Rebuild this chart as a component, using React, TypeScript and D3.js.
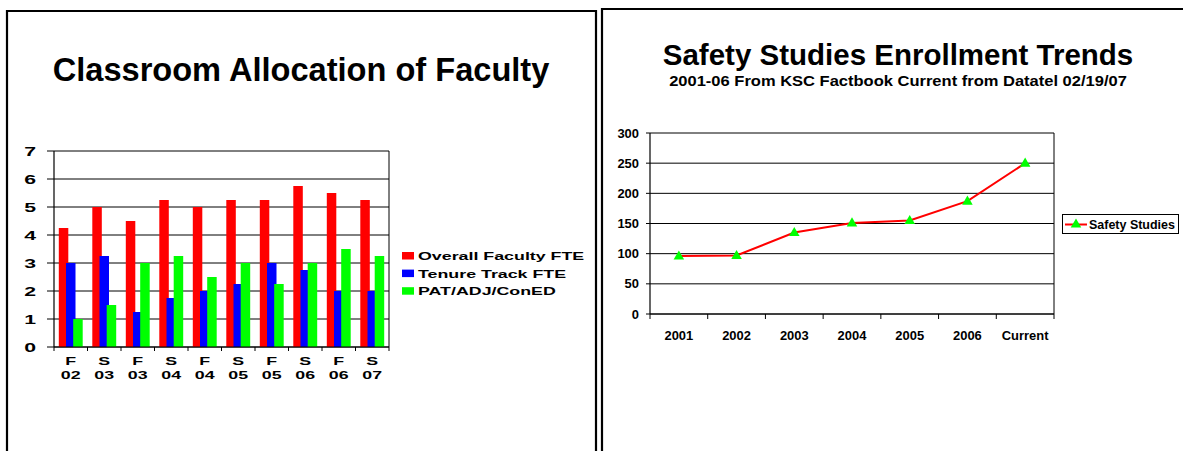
import React from "react";
import * as d3 from "d3";

// ---------- Left chart data ----------
const terms = ["F", "S", "F", "S", "F", "S", "F", "S", "F", "S"];
const termYears = ["02", "03", "03", "04", "04", "05", "05", "06", "06", "07"];
const seriesNames = ["Overall Faculty FTE", "Tenure Track FTE", "PAT/ADJ/ConED"];
const overallFTE = [4.25, 5, 4.5, 5.25, 5, 5.25, 5.25, 5.75, 5.5, 5.25];
const tenureFTE = [3, 3.25, 1.25, 1.75, 2, 2.25, 3, 2.75, 2, 2];
const patFTE = [1, 1.5, 3, 3.25, 2.5, 3, 2.25, 3, 3.5, 3.25];
const leftTicks = [0, 1, 2, 3, 4, 5, 6, 7];
const seriesColors = ["#ff0000", "#0000ff", "#00ff00"];

// ---------- Right chart data ----------
const years = ["2001", "2002", "2003", "2004", "2005", "2006", "Current"];
const enrollment = [96, 97, 135, 151, 155, 187, 250];
const rightTicks = [0, 50, 100, 150, 200, 250, 300];

const FONT = "'Liberation Sans', Arial, Helvetica, sans-serif";

function ST({ x, y, sx = 1, size, anchor = "start", children }: any) {
  return (
    <text
      transform={`translate(${x},${y}) scale(${sx},1)`}
      textAnchor={anchor}
      fontSize={size}
      fontWeight="bold"
      fontFamily={FONT}
      fill="#000"
    >
      {children}
    </text>
  );
}

function LeftChart() {
  const x0 = 54, x1 = 389, yTop = 151, yBot = 347;
  const n = terms.length;
  const x = d3.scaleBand<number>().domain(d3.range(n)).range([x0, x1]).paddingInner(0).paddingOuter(0);
  const y = d3.scaleLinear().domain([0, 7]).range([yBot, yTop]);
  const bw = 9.5, step = 7.2;
  const span = 2 * step + bw;
  const pad = (x.bandwidth() - span) / 2;
  const all = [overallFTE, tenureFTE, patFTE];
  const sx = 1.62;
  return (
    <g>
      {leftTicks.map((t) => (
        <line key={"g" + t} x1={x0 - 7} x2={x1} y1={y(t)} y2={y(t)} stroke="#000" strokeWidth={1} />
      ))}
      {all.map((vals, si) =>
        vals.map((v, i) => (
          <rect
            key={si + "-" + i}
            x={(x(i) as number) + pad + si * step}
            y={y(v)}
            width={bw}
            height={y(0) - y(v)}
            fill={seriesColors[si]}
          />
        ))
      )}
      <line x1={x0} x2={x0} y1={yTop} y2={yBot} stroke="#000" strokeWidth={1.2} />
      <line x1={x1} x2={x1} y1={yTop} y2={yBot} stroke="#000" strokeWidth={1} />
      <line x1={x0} x2={x1} y1={yBot} y2={yBot} stroke="#000" strokeWidth={1.2} />
      {d3.range(n + 1).map((i) => {
        const xx = x0 + i * x.bandwidth();
        return <line key={"xt" + i} x1={xx} x2={xx} y1={yBot} y2={yBot + 4} stroke="#000" strokeWidth={1} />;
      })}
      {leftTicks.map((t) => (
        <ST key={"yl" + t} x={36} y={y(t) + 4.5} sx={1.7} size={12.5} anchor="end">
          {t}
        </ST>
      ))}
      {terms.map((t, i) => {
        const cx = (x(i) as number) + x.bandwidth() / 2;
        return (
          <g key={"xl" + i}>
            <ST x={cx} y={365} sx={sx} size={11} anchor="middle">{t}</ST>
            <ST x={cx} y={378.5} sx={sx} size={11} anchor="middle">{termYears[i]}</ST>
          </g>
        );
      })}
      {seriesNames.map((s, i) => (
        <g key={"lg" + i}>
          <rect x={402} y={252 + i * 17.6} width={12} height={7.5} fill={seriesColors[i]} />
          <ST x={418} y={260 + i * 17.6} sx={sx} size={11}>{s}</ST>
        </g>
      ))}
    </g>
  );
}

function RightChart() {
  const x0 = 650, x1 = 1054, yTop = 133, yBot = 314;
  const x = d3.scaleBand<string>().domain(years).range([x0, x1]);
  const y = d3.scaleLinear().domain([0, 300]).range([yBot, yTop]);
  const line = d3
    .line<number>()
    .x((_, i) => (x(years[i]) as number) + x.bandwidth() / 2)
    .y((d) => y(d));
  const tri = d3.symbol(d3.symbolTriangle, 48)() as string;
  const sx = 1.08;
  return (
    <g>
      {rightTicks.map((t) => (
        <line key={"g" + t} x1={x0 - 4} x2={x1} y1={y(t)} y2={y(t)} stroke="#000" strokeWidth={1} />
      ))}
      <line x1={x0} x2={x0} y1={yTop} y2={yBot} stroke="#000" strokeWidth={1.2} />
      <line x1={x1} x2={x1} y1={yTop} y2={yBot} stroke="#000" strokeWidth={1} />
      <line x1={x0} x2={x1} y1={yBot} y2={yBot} stroke="#000" strokeWidth={1.2} />
      {d3.range(years.length + 1).map((i) => {
        const xx = x0 + i * x.bandwidth();
        return <line key={"xt" + i} x1={xx} x2={xx} y1={yBot} y2={yBot + 5} stroke="#000" strokeWidth={1} />;
      })}
      <path d={line(enrollment) as string} fill="none" stroke="#ff0000" strokeWidth={2} />
      {enrollment.map((v, i) => (
        <path
          key={"m" + i}
          d={tri}
          transform={`translate(${(x(years[i]) as number) + x.bandwidth() / 2},${y(v) + 0.5})`}
          fill="#00ff00"
        />
      ))}
      {rightTicks.map((t) => (
        <ST key={"yl" + t} x={639} y={y(t) + 4.5} sx={sx} size={12} anchor="end">
          {t}
        </ST>
      ))}
      {years.map((yr) => (
        <ST key={"xl" + yr} x={(x(yr) as number) + x.bandwidth() / 2} y={339.5} sx={sx} size={12} anchor="middle">
          {yr}
        </ST>
      ))}
      <rect x={1062.5} y={214.5} width={116} height={19} fill="#fff" stroke="#000" strokeWidth={1} />
      <line x1={1065} x2={1087} y1={224.5} y2={224.5} stroke="#ff0000" strokeWidth={2} />
      <path d={tri} transform="translate(1076,224.5)" fill="#00ff00" />
      <ST x={1089} y={229} sx={1.04} size={12}>Safety Studies</ST>
    </g>
  );
}

export default function App() {
  return (
    <svg
      width={1183}
      height={451}
      style={{ position: "absolute", left: 0, top: 0, background: "#fff" }}
      xmlns="http://www.w3.org/2000/svg"
    >
      <rect x={0} y={0} width={1183} height={451} fill="#fff" />
      <path d="M7,460 L7,11 L596,11 L596,460" fill="none" stroke="#000" strokeWidth={2.2} />
      <path d="M602,460 L602,9 L1190,9" fill="none" stroke="#000" strokeWidth={2.2} />
      <ST x={301} y={81} size={32.6} anchor="middle">Classroom Allocation of Faculty</ST>
      <ST x={898} y={65} size={29.5} anchor="middle">Safety Studies Enrollment Trends</ST>
      <ST x={898} y={86} size={14} sx={1.18} anchor="middle">2001-06 From KSC Factbook Current from Datatel 02/19/07</ST>
      <LeftChart />
      <RightChart />
    </svg>
  );
}
